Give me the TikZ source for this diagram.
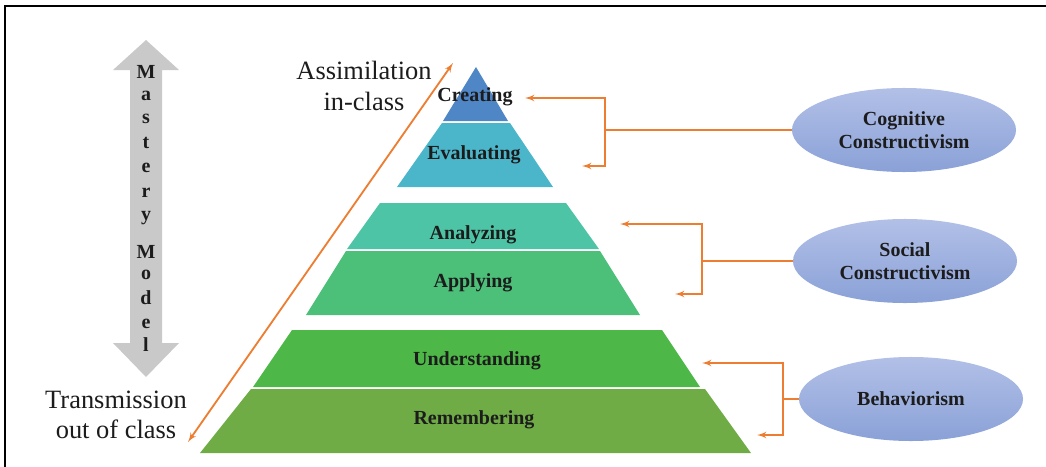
\documentclass[tikz,border=0pt]{standalone}
\usepackage{fontspec}
\setmainfont{Liberation Serif}
\usepackage{tikz}
\usetikzlibrary{arrows}
\usetikzlibrary{shapes}
\usetikzlibrary{calc}
\definecolor{orangeline}{HTML}{ED7D31}
\definecolor{labelblack}{HTML}{1C1C1C}
\definecolor{arrowgray}{HTML}{C9C9C9}
\definecolor{creatingc}{HTML}{4F86C6}
\definecolor{evaluatingc}{HTML}{4BB6CA}
\definecolor{analyzingc}{HTML}{4EC4A6}
\definecolor{applyingc}{HTML}{4CBF79}
\definecolor{understandingc}{HTML}{4DB748}
\definecolor{rememberingc}{HTML}{6FAC46}
\definecolor{ellipsetop}{HTML}{B2C0E7}
\definecolor{ellipsebot}{HTML}{8AA1D7}
\tikzstyle{arrowline} = [draw, color=orangeline, line width=1.3pt]

\begin{document}
\begin{tikzpicture}[x=0.025cm, y=-0.025cm,
        level/.style={font=\fontsize{14.2}{16}\selectfont\bfseries, text=labelblack},
        side/.style={font=\fontsize{18.8}{21.5}\selectfont, text=labelblack},
        theory/.style={ellipse, minimum width=5.6cm, minimum height=2.1cm, inner sep=0pt,
                top color=ellipsetop, bottom color=ellipsebot,
                font=\fontsize{14.2}{16}\selectfont\bfseries, text=labelblack},
        every text node part/.style={align=center}]
        \useasboundingbox (0,0) rectangle (1046,467);
        \draw[line width=1.3pt] (5,467) -- (5,6) -- (1046,6);

        % pyramid
        \fill[creatingc] (476,67) -- (508,121) -- (443,121) -- cycle;
        \fill[evaluatingc] (442,123) -- (510,123) -- (553,187) -- (397,187) -- cycle;
        \fill[analyzingc] (380,203) -- (566,203) -- (599,249) -- (347,249) -- cycle;
        \fill[applyingc] (346,251) -- (600,251) -- (640,315) -- (306,315) -- cycle;
        \fill[understandingc] (292,330) -- (662,330) -- (700,387) -- (253,387) -- cycle;
        \fill[rememberingc] (251,389) -- (705,389) -- (751,453) -- (200,453) -- cycle;

        \node[level] (lvl6) at (475,97) {Creating};
        \node[level] (lvl5) at (474,155) {Evaluating};
        \node[level] (lvl4) at (473,235) {Analyzing};
        \node[level] (lvl3) at (473,283) {Applying};
        \node[level] (lvl2) at (477,361) {Understanding};
        \node[level] (lvl1) at (474,420) {Remembering};

        % mastery model arrow
        \fill[arrowgray] (146,40) -- (179,70) -- (162,70) -- (162,343) -- (179,343) -- (146,377)
                -- (113,343) -- (130,343) -- (130,70) -- (113,70) -- cycle;
        \foreach \ch/\yy [count=\i] in {M/72,a/96,s/119,t/143,e/168,r/193,y/218,M/252,o/275,d/298,e/324,l/345}
                \node[level] (mm\i) at (146,\yy) {\ch};

        % in-class / out of class
        \node[side] (assim) at (364,86) {Assimilation\\in-class};
        \node[side] (trans) at (116,415) {Transmission\\out of class};
        \coordinate (lowend) at (188,442);
        \coordinate (highend) at (453,63);
        \draw[arrowline, latex'-latex'] (lowend) -- (highend);

        % theories
        \node[theory] (cog) at (904,130) {Cognitive\\Constructivism};
        \node[theory] (soc) at (905,261) {Social\\Constructivism};
        \node[theory] (beh) at (911,399) {Behaviorism};

        \coordinate (cogbar) at (605,130);
        \coordinate (cre-in) at (525,98);
        \coordinate (eva-in) at (582,166);
        \draw[arrowline] (cog.west) -- (cogbar);
        \draw[arrowline, -latex'] (cogbar) |- (cre-in);
        \draw[arrowline, -latex'] (cogbar) |- (eva-in);

        \coordinate (socbar) at (702,261);
        \coordinate (ana-in) at (620,224);
        \coordinate (app-in) at (675,294);
        \draw[arrowline] (soc.west) -- (socbar);
        \draw[arrowline, -latex'] (socbar) |- (ana-in);
        \draw[arrowline, -latex'] (socbar) |- (app-in);

        \coordinate (behbar) at (783,399);
        \coordinate (und-in) at (702,363);
        \coordinate (rem-in) at (757,435);
        \draw[arrowline] (beh.west) -- (behbar);
        \draw[arrowline, -latex'] (behbar) |- (und-in);
        \draw[arrowline, -latex'] (behbar) |- (rem-in);
\end{tikzpicture}
\end{document}
